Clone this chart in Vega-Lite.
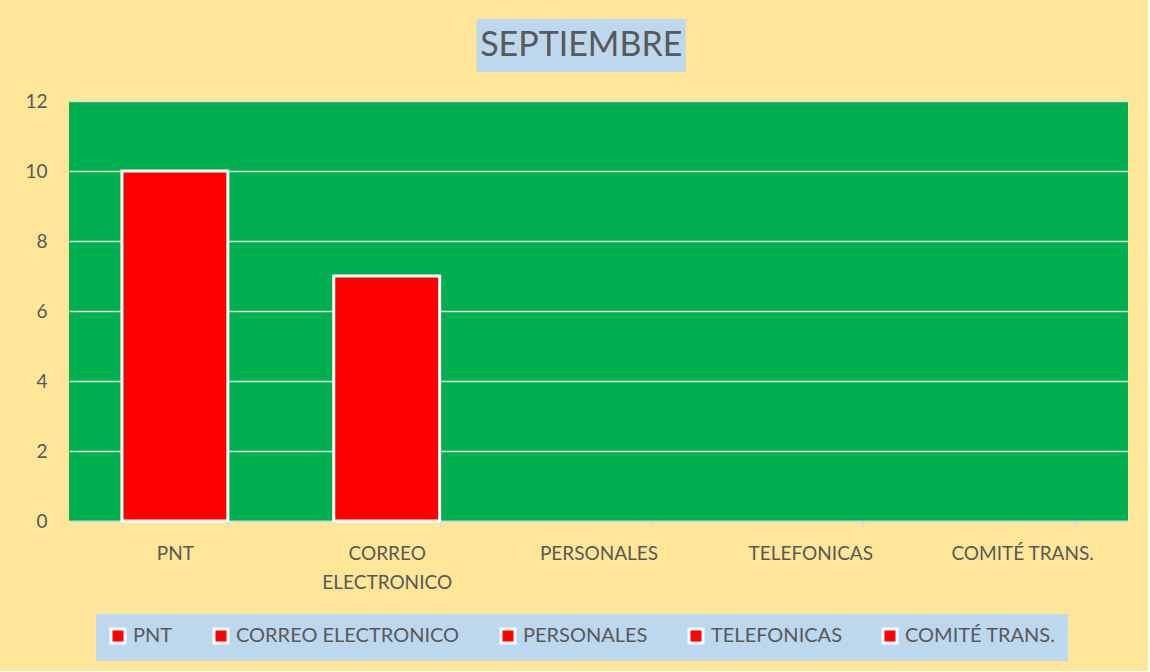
{
  "$schema": "https://vega.github.io/schema/vega-lite/v6.json",
  "background": "#FFE699",
  "padding": {"left": 24, "top": 19, "right": 20, "bottom": 10},
  "spacing": 20,
  "center": true,
  "config": {
    "font": "Lato",
    "view": {"stroke": null}
  },
  "vconcat": [
    {
      "width": 209,
      "height": 53,
      "view": {"fill": "#BDD7EE", "stroke": null},
      "data": {"values": [{"t": "SEPTIEMBRE"}]},
      "mark": {"type": "text", "fontSize": 34, "color": "#595959", "font": "Lato", "align": "center", "baseline": "middle"},
      "encoding": {
        "text": {"field": "t"},
        "y": {"field": "t", "type": "nominal", "axis": {"orient": "right", "title": null, "labels": false, "domain": false, "ticks": true, "tickSize": 34, "tickColor": "transparent", "grid": false}}
      }
    },
    {
      "width": 1059,
      "height": 420,
      "view": {"fill": "#00B050", "stroke": null},
      "data": {
        "values": [
          {"cat": "PNT", "value": 10},
          {"cat": "CORREO ELECTRONICO", "value": 7},
          {"cat": "PERSONALES", "value": 0},
          {"cat": "TELEFONICAS", "value": 0},
          {"cat": "COMITÉ TRANS.", "value": 0}
        ]
      },
      "mark": {"type": "bar", "strokeWidth": 3},
      "encoding": {
        "x": {
          "field": "cat", "type": "nominal", "sort": null,
          "scale": {"paddingInner": 0.5, "paddingOuter": 0.25},
          "axis": {
            "title": null, "labelAngle": 0, "labelFontSize": 19, "labelColor": "#595959",
            "labelExpr": "datum.label == 'CORREO ELECTRONICO' ? ['CORREO', 'ELECTRONICO'] : datum.label",
            "labelLineHeight": 29, "labelPadding": 17, "labelLimit": 300,
            "domainColor": "#D9D9D9", "domainWidth": 1.5,
            "tickColor": "#D9D9D9", "tickWidth": 1.5, "tickSize": 6, "tickBand": "extent",
            "grid": false
          }
        },
        "y": {
          "field": "value", "type": "quantitative",
          "scale": {"domain": [0, 12], "nice": false},
          "axis": {
            "title": null, "values": [0, 2, 4, 6, 8, 10, 12], "labelFontSize": 19, "labelColor": "#595959",
            "labelPadding": 22, "ticks": false, "domain": false,
            "grid": true, "gridColor": "#D9D9D9", "gridWidth": 1.5
          }
        },
        "color": {
          "field": "cat", "type": "nominal",
          "scale": {
            "domain": ["PNT", "CORREO ELECTRONICO", "PERSONALES", "TELEFONICAS", "COMITÉ TRANS."],
            "range": ["#FF0000", "#FF0000", "#FF0000", "#FF0000", "#FF0000"]
          },
          "legend": {
            "title": null, "orient": "none", "direction": "horizontal",
            "legendX": 27, "legendY": 595,
            "fillColor": "#BDD7EE", "padding": 12,
            "labelFontSize": 20, "labelColor": "#595959", "labelLimit": 400, "labelOffset": 5,
            "symbolType": "square", "symbolSize": 196, "symbolStrokeColor": "white", "symbolStrokeWidth": 3,
            "symbolOpacity": 1, "columnPadding": 35
          }
        },
        "stroke": {"condition": {"test": "datum.value > 0", "value": "white"}, "value": "transparent"}
      }
    }
  ]
}
